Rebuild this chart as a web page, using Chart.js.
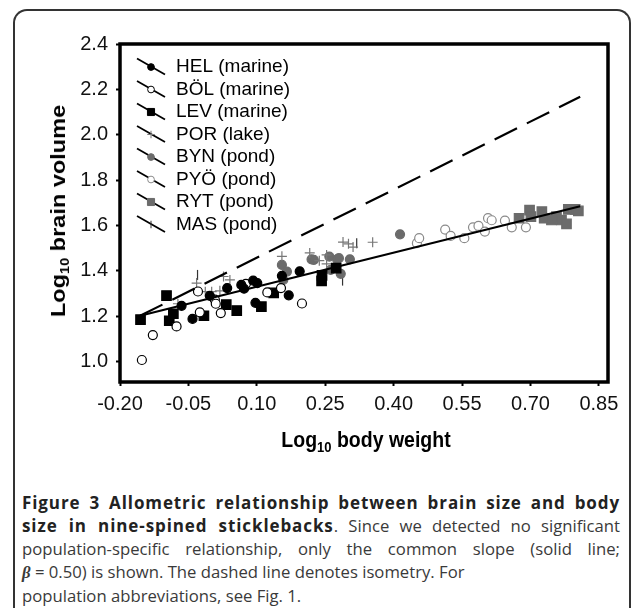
<!DOCTYPE html>
<html>
<head>
<meta charset="utf-8">
<script src="https://cdn.jsdelivr.net/npm/chart.js@4.4.1/dist/chart.umd.min.js"></script>
<style>
  body { margin: 0; background: #fff; width: 633px; height: 608px; overflow: hidden; position: relative; }
  #frame { position: absolute; left: 13px; top: 9px; width: 618px; height: 640px; border: 2px solid #333; border-bottom: none; border-radius: 14px 14px 0 0; box-sizing: border-box; }
  #plot { position: absolute; left: 0; top: 0; width: 633px; height: 470px; }
  .axis-title { position: absolute; font: bold 21px "Liberation Sans", Arial, sans-serif; color: #000; white-space: nowrap; }
  .axis-title sub { font-size: 13px; vertical-align: -4px; line-height: 0; }
  #xtitle { left: 366px; top: 440px; font-size: 19.5px; transform: translate(-50%, -50%) scale(1, 1.12); }
  #ytitle { left: 58px; top: 211px; transform: translate(-50%, -50%) rotate(-90deg) scale(1.12, 1); }
  #caption { position: absolute; left: 22px; top: 491px; width: 598px; font: 16.7px "Open Sans", sans-serif; color: #3a3a3a; line-height: 23px; }
  #caption div { white-space: nowrap; }
  #caption .just { text-align: justify; text-align-last: justify; white-space: normal; }
  #caption b { color: #222; letter-spacing: 0.9px; font-size: 17px; }
  #caption .beta { font-family: "Liberation Serif", serif; font-style: italic; font-weight: bold; }
</style>
</head>
<body>
<div id="frame"></div>
<div id="plot"><canvas id="chart"></canvas></div>
<div class="axis-title" id="ytitle">Log<sub>10</sub> brain volume</div>
<div class="axis-title" id="xtitle">Log<sub>10</sub> body weight</div>
<div id="caption">
  <div class="just"><b>Figure 3 Allometric relationship between brain size and body</b></div>
  <div class="just"><b>size in nine-spined sticklebacks</b>. Since we detected no significant</div>
  <div class="just">population-specific relationship, only the common slope (solid line;</div>
  <div><span class="beta">β</span> = 0.50) is shown. The dashed line denotes isometry. For</div>
  <div>population abbreviations, see Fig. 1.</div>
</div>
<script>
// axis ticks
const xTicks = [-0.20, -0.05, 0.10, 0.25, 0.40, 0.55, 0.70, 0.85];
const yTicks = [1.0, 1.2, 1.4, 1.6, 1.8, 2.0, 2.2, 2.4];

// populations (legend order)
const popLabels = ["HEL (marine)", "BÖL (marine)", "LEV (marine)", "POR (lake)",
                   "BYN (pond)", "PYÖ (pond)", "RYT (pond)", "MAS (pond)"];

// log10 body weight / log10 brain volume per fish
const helX = [-0.065, -0.041, -0.003, 0.035, 0.066, 0.072, 0.092, 0.101, 0.097, 0.155, 0.170, 0.194];
const helY = [1.246, 1.188, 1.290, 1.324, 1.338, 1.321, 1.357, 1.346, 1.259, 1.378, 1.292, 1.398];

const bolX = [-0.152, -0.128, -0.076, -0.025, 0.008, 0.010, 0.021, 0.123, 0.153, 0.199, -0.029, 0.076];
const bolY = [1.007, 1.117, 1.155, 1.217, 1.273, 1.255, 1.214, 1.305, 1.324, 1.256, 1.309, 1.343];

const levX = [-0.155, -0.098, -0.083, -0.092, -0.016, 0.033, 0.056, 0.110, 0.137, 0.242, 0.243, 0.274];
const levY = [1.185, 1.291, 1.211, 1.180, 1.202, 1.251, 1.225, 1.242, 1.303, 1.356, 1.380, 1.412];

const porX = [-0.073, -0.032, -0.013, 0.001, 0.019, 0.027, 0.041, 0.155, 0.216, 0.237, 0.253, 0.253, 0.289, 0.301, 0.311, 0.354];
const porY = [1.255, 1.346, 1.308, 1.308, 1.312, 1.375, 1.360, 1.464, 1.479, 1.445, 1.470, 1.431, 1.527, 1.519, 1.505, 1.526];

const bynX = [0.155, 0.166, 0.158, 0.220, 0.225, 0.259, 0.276, 0.280, 0.262, 0.284, 0.304, 0.414];
const bynY = [1.426, 1.397, 1.360, 1.451, 1.448, 1.463, 1.451, 1.456, 1.404, 1.387, 1.451, 1.561];

const pyoX = [0.451, 0.456, 0.513, 0.525, 0.555, 0.574, 0.586, 0.600, 0.607, 0.615, 0.644, 0.659, 0.690];
const pyoY = [1.522, 1.544, 1.582, 1.554, 1.544, 1.592, 1.598, 1.573, 1.632, 1.623, 1.621, 1.592, 1.592];

const rytX = [0.675, 0.698, 0.701, 0.725, 0.730, 0.746, 0.757, 0.768, 0.779, 0.783, 0.798, 0.805];
const rytY = [1.632, 1.668, 1.639, 1.661, 1.632, 1.624, 1.639, 1.624, 1.607, 1.671, 1.671, 1.664];

const masX = [-0.030, 0.288, 0.319];
const masY = [1.382, 1.357, 1.522];

// common slope (beta = 0.50) and isometry (slope 1), same start point
const slopeX = [-0.156, 0.809];
const slopeY = [1.202, 1.685];
const isoX = [-0.156, 0.809];
const isoY = [1.202, 2.167];

function pts(xs, ys) {
    return xs.map((x, i) => ({ x: x, y: ys[i] }));
}

function pop(label, xs, ys, style) {
    return Object.assign({
        label: label,
        data: pts(xs, ys),
        showLine: false,
        pointBorderWidth: 1.2,
        pointRadius: 4.5,
        pointHoverRadius: 4.5
    }, style);
}

const black = "#000";
const grey = "#6b6b6b";

const datasets = [
    { label: "common", data: pts(slopeX, slopeY), showLine: true, borderColor: black, borderWidth: 2.2, pointRadius: 0, isLine: true },
    { label: "iso", data: pts(isoX, isoY), showLine: true, borderColor: black, borderWidth: 2.2, borderDash: [25, 11], pointRadius: 0, isLine: true },
    pop(popLabels[0], helX, helY, { pointStyle: "circle", backgroundColor: black, borderColor: black }),
    pop(popLabels[1], bolX, bolY, { pointStyle: "circle", backgroundColor: "#fff", borderColor: black }),
    pop(popLabels[2], levX, levY, { pointStyle: "rect", pointRadius: 6.7, pointHoverRadius: 6.7, backgroundColor: black, borderColor: black }),
    pop(popLabels[3], porX, porY, { pointStyle: "cross", pointRadius: 5, pointHoverRadius: 5, backgroundColor: "#777", borderColor: "#777" }),
    pop(popLabels[4], bynX, bynY, { pointStyle: "circle", backgroundColor: grey, borderColor: grey }),
    pop(popLabels[5], pyoX, pyoY, { pointStyle: "circle", backgroundColor: "#fff", borderColor: "#8a8a8a" }),
    pop(popLabels[6], rytX, rytY, { pointStyle: "rect", pointRadius: 6.7, pointHoverRadius: 6.7, backgroundColor: grey, borderColor: grey }),
    pop(popLabels[7], masX, masY, { pointStyle: "line", rotation: 90, pointRadius: 5, pointHoverRadius: 5, backgroundColor: "#333", borderColor: "#333" })
];

// thick box round the plotting area
const frameBox = {
    id: "frameBox",
    afterDraw(chart) {
        const a = chart.chartArea;
        const ctx = chart.ctx;
        ctx.save();
        ctx.strokeStyle = "#000";
        ctx.lineWidth = 3.5;
        ctx.strokeRect(a.left, a.top, a.right - a.left, a.bottom - a.top);
        ctx.restore();
    }
};

// legend: short slanted line with the marker on it
const slantLegend = {
    id: "slantLegend",
    afterDraw(chart) {
        const ctx = chart.ctx;
        const a = chart.chartArea;
        ctx.save();
        ctx.font = '19px "Liberation Sans", Arial, sans-serif';
        ctx.textBaseline = "middle";
        chart.data.datasets.filter(d => !d.isLine).forEach((d, i) => {
            const y = a.top + 23 + i * 22.5;
            const x0 = a.left + 17;
            ctx.strokeStyle = "#000";
            ctx.lineWidth = 1.8;
            ctx.beginPath();
            ctx.moveTo(x0, y - 8.5);
            ctx.lineTo(x0 + 28, y + 7.5);
            ctx.stroke();
            ctx.fillStyle = d.backgroundColor;
            ctx.strokeStyle = d.borderColor;
            ctx.lineWidth = 1;
            Chart.helpers.drawPoint(ctx, {
                pointStyle: d.pointStyle,
                radius: d.pointRadius * 0.75,
                rotation: d.rotation || 0,
                borderWidth: 1
            }, x0 + 14, y);
            ctx.fillStyle = "#000";
            ctx.fillText(d.label, x0 + 39, y);
        });
        ctx.restore();
    }
};

const tickFont = { family: '"Liberation Sans", Arial, sans-serif', size: 20 };

new Chart(document.getElementById("chart"), {
    type: "scatter",
    data: { datasets: datasets },
    plugins: [frameBox, slantLegend],
    options: {
        responsive: true,
        maintainAspectRatio: false,
        animation: false,
        layout: { padding: { top: 44, right: 25, left: 0, bottom: 0 } },
        plugins: { legend: { display: false }, tooltip: { enabled: false } },
        scales: {
            x: {
                type: "linear",
                min: -0.2,
                max: 0.87,
                afterBuildTicks: (s) => { s.ticks = xTicks.map(v => ({ value: v })); },
                afterFit: (s) => { s.height = 88; },
                grid: { drawOnChartArea: false, tickLength: 4, tickWidth: 2, color: "#000" },
                border: { display: false },
                ticks: { color: "#111", font: tickFont, padding: 6, maxRotation: 0, callback: (v) => v.toFixed(2) }
            },
            y: {
                type: "linear",
                min: 0.91,
                max: 2.4,
                afterBuildTicks: (s) => { s.ticks = yTicks.map(v => ({ value: v })); },
                afterFit: (s) => { s.width = 120; },
                grid: { drawOnChartArea: false, tickLength: 4, tickWidth: 2, color: "#000" },
                border: { display: false },
                ticks: { color: "#111", font: tickFont, padding: 8, callback: (v) => v.toFixed(1) }
            }
        }
    }
});
</script>
</body>
</html>
